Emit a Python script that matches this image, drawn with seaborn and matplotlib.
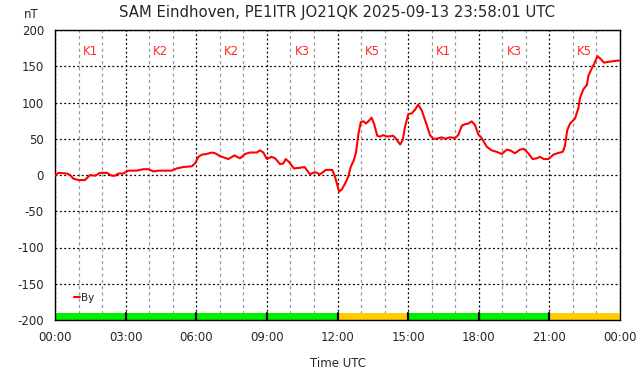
import numpy as np
import pandas as pd
import matplotlib
matplotlib.use("Agg")
import matplotlib.pyplot as plt
import seaborn as sns

# ---- data ----
hours = [0.0, 0.14, 0.5, 0.64, 0.78, 0.99, 1.27, 1.49, 1.7, 1.91, 2.2, 2.41, 2.55, 2.69, 2.9,
         3.11, 3.47, 3.75, 3.96, 4.18, 4.39, 4.6, 4.96, 5.17, 5.45, 5.81, 5.95, 6.09, 6.23,
         6.44, 6.66, 6.8, 7.01, 7.36, 7.62, 7.86, 8.07, 8.28, 8.57, 8.71, 8.85, 9.0, 9.2,
         9.35, 9.56, 9.7, 9.8, 9.94, 10.15, 10.4, 10.6, 10.83, 11.04, 11.26, 11.51, 11.78,
         11.89, 12.07, 12.18, 12.32, 12.45, 12.56, 12.7, 12.79, 12.89, 12.99, 13.1, 13.21,
         13.31, 13.45, 13.55, 13.69, 13.81, 13.95, 14.12, 14.37, 14.51, 14.66, 14.77, 14.87,
         15.01, 15.15, 15.29, 15.43, 15.58, 15.79, 15.93, 16.07, 16.21, 16.43, 16.57, 16.78,
         16.99, 17.13, 17.28, 17.42, 17.56, 17.7, 17.84, 17.98, 18.12, 18.34, 18.55, 18.76,
         18.98, 19.19, 19.33, 19.54, 19.75, 19.92, 20.1, 20.29, 20.46, 20.6, 20.77, 20.96,
         21.17, 21.34, 21.57, 21.66, 21.76, 21.88, 22.09, 22.23, 22.3, 22.44, 22.59, 22.66,
         22.8, 22.9, 23.04, 23.18, 23.32, 23.5, 23.71, 23.97]
by_nT = [-1, 3, 2, 0, -5, -7, -7, 0, -1, 3, 3, -1, -1, 2, 2,
         6, 6, 8, 8, 5, 6, 6, 6, 9, 11, 12, 16, 25, 28,
         29, 31, 30, 26, 22, 27, 23, 29, 31, 31, 34, 31, 22, 25,
         23, 15, 16, 22, 18, 9, 10, 11, 1, 4, 1, 7, 7,
         -2, -23, -20, -12, -3, 11, 21, 32, 57, 73, 74, 71,
         74, 79, 71, 54, 53, 55, 53, 54, 49, 42, 48, 67,
         84, 85, 90, 97, 89, 69, 55, 50, 50, 52, 50, 52,
         51, 55, 68, 70, 71, 74, 69, 56, 51, 39, 34, 32,
         29, 35, 34, 30, 35, 36, 30, 22, 23, 25, 22, 22,
         28, 30, 32, 40, 62, 71, 78, 92, 106, 118, 124, 137,
         147, 153, 164, 160, 155, 156, 157, 158]

k_labels = ["K1", "K2", "K2", "K3", "K5", "K1", "K3", "K5"]
k_values = [1, 2, 2, 3, 5, 1, 3, 5]
x_tick_labels = ["00:00", "03:00", "06:00", "09:00", "12:00", "15:00", "18:00", "21:00", "00:00"]
y_ticks = [-200, -150, -100, -50, 0, 50, 100, 150, 200]

df = pd.DataFrame({"hour": hours, "By": by_nT})

sns.set_style("white")
plt.rcParams['font.family'] = ['DejaVu Sans']

fig = plt.figure(figsize=(6.42, 3.76), dpi=100)
ax = fig.add_axes([55/642, 1-320/376, 565/642, 290/376])

# grid
for h in range(25):
    if h % 3 == 0:
        ax.axvline(h, color="black", lw=0.9, ls=(0, (1.5, 2.0)), zorder=1)
    else:
        ax.axvline(h, color="#999999", lw=0.9, ls=(0, (2.5, 2.5)), zorder=1)
for v in y_ticks:
    ax.axhline(v, color="black", lw=0.9, ls=(0, (1.5, 2.0)), zorder=1)

# K-index band at bottom
for i, k in enumerate(k_values):
    col = "#00ee00" if k < 4 else "#ffcc00"
    ax.fill_between([3*i, 3*i+3], -200, -190, color=col, zorder=2, lw=0)
    ax.text(3*i + 1.5, 170, k_labels[i], color="#ff2a2a", ha="center", va="center",
            fontsize=8.5, zorder=3)
for i in range(1, 8):
    ax.plot([3*i, 3*i], [-200, -190], color="black", lw=1.6, zorder=3)

sns.lineplot(data=df, x="hour", y="By", ax=ax, color="#ff0000", lw=1.5, zorder=4,
             label="By", legend=False)

ax.set_xlim(0, 24)
ax.set_ylim(-200, 200)
ax.set_xticks(range(0, 25, 3))
ax.set_xticklabels(x_tick_labels, fontsize=8.5)
ax.set_yticks(y_ticks)
ax.set_yticklabels([str(v) for v in y_ticks], fontsize=8.5)
ax.tick_params(length=0, pad=8)
ax.set_xlabel("Time UTC", fontsize=8.5, labelpad=9)
ax.set_ylabel("")
for s in ax.spines.values():
    s.set_color("black")
    s.set_linewidth(1.0)

ax.legend(loc="lower left", bbox_to_anchor=(0.02, 0.035), frameon=False, fontsize=7.5,
          handlelength=0.6, handletextpad=0.1, borderpad=0.2)

fig.text(337/642, 1-12/376, "SAM Eindhoven, PE1ITR JO21QK 2025-09-13 23:58:01 UTC",
         ha="center", va="center", fontsize=10.7)
fig.text(31/642, 1-15/376, "nT", ha="center", va="center", fontsize=8.5)

fig.savefig("out.png", dpi=100)
